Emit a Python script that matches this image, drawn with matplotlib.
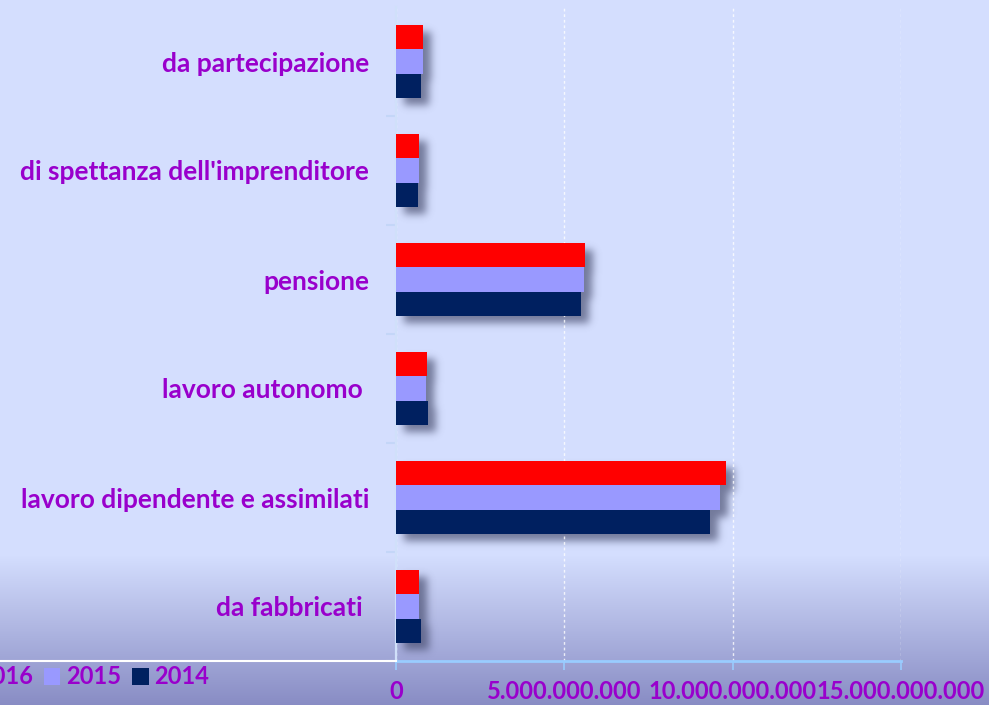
import numpy as np
import matplotlib
matplotlib.use("Agg")
import matplotlib.pyplot as plt
from matplotlib.lines import Line2D
from matplotlib.ticker import FuncFormatter

# ---------------- data ----------------
categories = ["da fabbricati ", "lavoro dipendente e assimilati", "lavoro autonomo ",
              "pensione", "di spettanza dell'imprenditore", "da partecipazione"]
series_names = ["2016", "2015", "2014"]
v2016 = [0.67e9, 9.81e9, 0.91e9, 5.61e9, 0.67e9, 0.81e9]
v2015 = [0.69e9, 9.61e9, 0.89e9, 5.57e9, 0.67e9, 0.79e9]
v2014 = [0.75e9, 9.32e9, 0.94e9, 5.50e9, 0.66e9, 0.75e9]
x_ticks = [0, 5e9, 10e9, 15e9]

# ---------------- style ----------------
colors = ["#FF0000", "#9999FF", "#002060"]
text_color = "#9900CC"
plt.rcParams["font.family"] = ["Lato", "DejaVu Sans"]
plt.rcParams["font.weight"] = "bold"

W, H = 989, 705
fig = plt.figure(figsize=(W / 100, H / 100), dpi=100)

# background gradient
bg = fig.add_axes([0, 0, 1, 1], zorder=-3)
bg.set_axis_off()
top = np.array([212, 222, 254]) / 255.0
bot = np.array([136, 140, 196]) / 255.0
rows = np.arange(H)
y0 = 555
t = np.clip((rows - y0) / (H - y0), 0, 1)[:, None]
grad = top[None, :] * (1 - t) + bot[None, :] * t
img = np.repeat(grad[:, None, :], 2, axis=1)
bg.imshow(img, aspect="auto", extent=[0, 1, 0, 1], origin="upper")
bg.set_xlim(0, 1)
bg.set_ylim(0, 1)

# main axes
ax = fig.add_axes([396 / W, (H - 661) / H, (901 - 396) / W, (661 - 7) / H], zorder=1)
ax.set_facecolor("none")

y = np.arange(len(categories))
h = 0.223
offsets = [h, 0.0, -h]
containers = []
for vals, off, c, name in zip([v2016, v2015, v2014], offsets, colors, series_names):
    containers.append(ax.barh(y + off, vals, height=h, color=c, label=name, zorder=3))

ax.set_xlim(0, 15e9)
ax.set_ylim(-0.5, len(categories) - 0.5)
ax.set_xticks(x_ticks)
ax.xaxis.set_major_formatter(FuncFormatter(lambda v, p: f"{int(v):,}".replace(",", ".")))
ax.set_yticks(y)
ax.set_yticklabels(categories)
ax.set_yticks(np.arange(-0.5, len(categories) - 1, 1.0), minor=True)

ax.tick_params(axis="y", which="major", length=0, pad=19.5, labelsize=19, labelcolor=text_color)
ax.tick_params(axis="y", which="minor", length=7.2, width=1.5, color="#C4D6F8")
ax.tick_params(axis="x", which="major", length=6.5, width=1.2, color="#99CCFF",
               pad=7, labelsize=17, labelcolor=text_color)
for lab in ax.get_xticklabels() + ax.get_yticklabels():
    lab.set_fontweight("bold")

for s in ["top", "right"]:
    ax.spines[s].set_visible(False)
ax.spines["left"].set_color("#D0E0FA")
ax.spines["left"].set_linewidth(1.6)
ax.spines["bottom"].set_color("#99CCFF")
ax.spines["bottom"].set_linewidth(2)
ax.set_axisbelow(True)
ax.xaxis.grid(True, linestyle=(0, (2, 2)), color="white", alpha=0.8, linewidth=1)

# white line left of the axis at the bottom
fig.add_artist(Line2D([0, 396 / W], [(H - 661) / H] * 2, color="white",
                      lw=1.5, transform=fig.transFigure, zorder=2))

# legend (partly cut at left edge like the reference)
leg = fig.legend(handles=containers, labels=series_names, loc="center left",
                 bbox_to_anchor=(-44 / W, 1 - 677 / H), ncol=3, frameon=False,
                 handlelength=0.7, handleheight=0.7, handletextpad=0.25,
                 columnspacing=0.45, borderpad=0, borderaxespad=0,
                 prop={"weight": "bold", "size": 17}, labelcolor=text_color)

# drop shadow behind bars
fig.canvas.draw()
mask = np.zeros((H, W))
dx, dy = 8, 7
for cont in containers:
    for p in cont.patches:
        bb = p.get_window_extent()
        c0 = int(round(bb.x0 + dx)); c1 = int(round(bb.x1 + dx))
        r0 = int(round(H - bb.y1 + dy)); r1 = int(round(H - bb.y0 + dy))
        mask[max(r0, 0):max(r1, 0), max(c0, 0):max(c1, 0)] = 1.0
sigma = 4.0
kx = np.arange(-14, 15)
k = np.exp(-kx ** 2 / (2 * sigma ** 2)); k /= k.sum()
mask = np.apply_along_axis(lambda r: np.convolve(r, k, mode="same"), 1, mask)
mask = np.apply_along_axis(lambda r: np.convolve(r, k, mode="same"), 0, mask)
rgba = np.zeros((H, W, 4))
rgba[..., 0] = 0.25; rgba[..., 1] = 0.27; rgba[..., 2] = 0.40
rgba[..., 3] = mask * 0.65
fig.figimage(rgba, xo=0, yo=0, origin="upper", zorder=-1)

fig.savefig("out.png", dpi=100)
